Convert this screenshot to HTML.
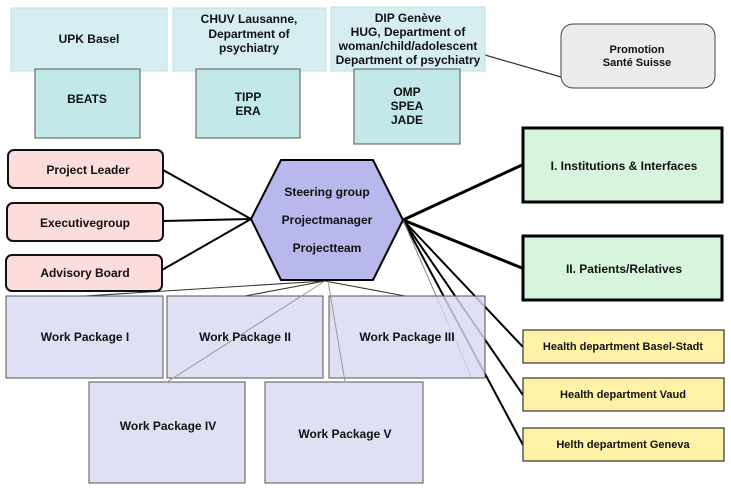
<!DOCTYPE html>
<html><head><style>
body{margin:0;width:731px;height:490px;background:#fff;overflow:hidden}
svg text{font-family:"Liberation Sans",sans-serif;font-weight:bold;font-size:12px;fill:#111;text-anchor:middle}
</style></head><body>
<svg width="731" height="490" viewBox="0 0 731 490">
<!-- lines -->
<line x1="485" y1="55" x2="561" y2="77" stroke="#333" stroke-width="1.2"/>
<g stroke="#000" stroke-width="2">
<line x1="163" y1="170" x2="251" y2="219"/>
<line x1="163" y1="221" x2="251" y2="219"/>
<line x1="162" y1="270" x2="251" y2="219"/>
<line x1="403" y1="220" x2="522" y2="165" stroke-width="3"/>
<line x1="403" y1="220" x2="522" y2="268" stroke-width="3"/>
<line x1="403" y1="220" x2="523" y2="347"/>
<line x1="403" y1="220" x2="523" y2="395"/>
<line x1="403" y1="220" x2="523" y2="445"/>
<line x1="403" y1="220" x2="472" y2="378" stroke="#888" stroke-width="1"/>
</g>
<g stroke="#333" stroke-width="1">
<line x1="325" y1="281" x2="85" y2="296"/>
<line x1="325" y1="281" x2="245" y2="296"/>
<line x1="325" y1="281" x2="405" y2="296"/>
</g>
<!-- top boxes -->
<g fill="#d6eef2" stroke="#b4e2ea" stroke-width="1">
<rect x="11" y="8" width="156" height="63"/>
<rect x="173" y="8" width="153" height="63"/>
<rect x="331" y="7" width="154" height="64"/>
</g>
<text x="89" y="43">UPK Basel</text>
<text x="249" y="23">CHUV Lausanne,</text>
<text x="249" y="38">Department of</text>
<text x="249" y="52">psychiatry</text>
<text x="408" y="22">DIP Genève</text>
<text x="408" y="36">HUG, Department of</text>
<text x="408" y="50">woman/child/adolescent</text>
<text x="408" y="64">Department of psychiatry</text>
<g fill="#c2e8ea" stroke="#555" stroke-width="1">
<rect x="35" y="69" width="105" height="69"/>
<rect x="196" y="69" width="104" height="69"/>
<rect x="354" y="69" width="106" height="75"/>
</g>
<text x="87" y="103">BEATS</text>
<text x="248" y="101">TIPP</text>
<text x="248" y="115">ERA</text>
<text x="407" y="96">OMP</text>
<text x="407" y="110">SPEA</text>
<text x="407" y="124">JADE</text>
<rect x="561" y="24" width="154" height="64" rx="12" fill="#ececec" stroke="#444" stroke-width="1"/>
<text x="637" y="53" style="font-size:11px">Promotion</text>
<text x="637" y="66" style="font-size:11px">Santé Suisse</text>
<!-- pink -->
<g fill="#fddcdc" stroke="#111" stroke-width="2">
<rect x="8" y="150" width="155" height="38" rx="6"/>
<rect x="7" y="203" width="156" height="38" rx="6"/>
<rect x="6" y="255" width="156" height="36" rx="6"/>
</g>
<text x="88" y="174">Project Leader</text>
<text x="85" y="227">Executivegroup</text>
<text x="85" y="277">Advisory Board</text>
<!-- hexagon -->
<polygon points="281,160 373,160 403,220 373,280 281,280 251,219" fill="#b8b8ec" stroke="#000" stroke-width="2"/>
<text x="327" y="196">Steering group</text>
<text x="327" y="224">Projectmanager</text>
<text x="327" y="252">Projectteam</text>
<!-- green -->
<g fill="#d6f5dc" stroke="#000" stroke-width="3">
<rect x="523" y="128" width="199" height="74"/>
<rect x="523" y="236" width="199" height="64"/>
</g>
<text x="624" y="170">I. Institutions &amp; Interfaces</text>
<text x="624" y="273">II. Patients/Relatives</text>
<!-- WP -->
<g fill="#d9d9f3" fill-opacity="0.82" stroke="#555" stroke-width="1">
<rect x="6" y="296" width="157" height="82"/>
<rect x="167" y="296" width="156" height="82"/>
<rect x="329" y="296" width="156" height="82"/>
<rect x="89" y="382" width="156" height="101"/>
<rect x="265" y="382" width="158" height="101"/>
</g>
<g stroke="#999" stroke-width="1">
<line x1="325" y1="281" x2="167" y2="382"/>
<line x1="328" y1="281" x2="345" y2="382"/>
</g>
<text x="85" y="341">Work Package I</text>
<text x="245" y="341">Work Package II</text>
<text x="407" y="341">Work Package III</text>
<text x="168" y="430">Work Package IV</text>
<text x="345" y="438">Work Package V</text>
<!-- yellow -->
<g fill="#fff2a6" stroke="#333" stroke-width="1.2">
<rect x="523" y="330" width="201" height="33"/>
<rect x="523" y="378" width="201" height="33"/>
<rect x="523" y="428" width="201" height="33"/>
</g>
<text x="623" y="350" style="font-size:11px">Health department  Basel-Stadt</text>
<text x="623" y="398" style="font-size:11px">Health department Vaud</text>
<text x="623" y="448" style="font-size:11px">Helth department Geneva</text>
</svg>
</body></html>
